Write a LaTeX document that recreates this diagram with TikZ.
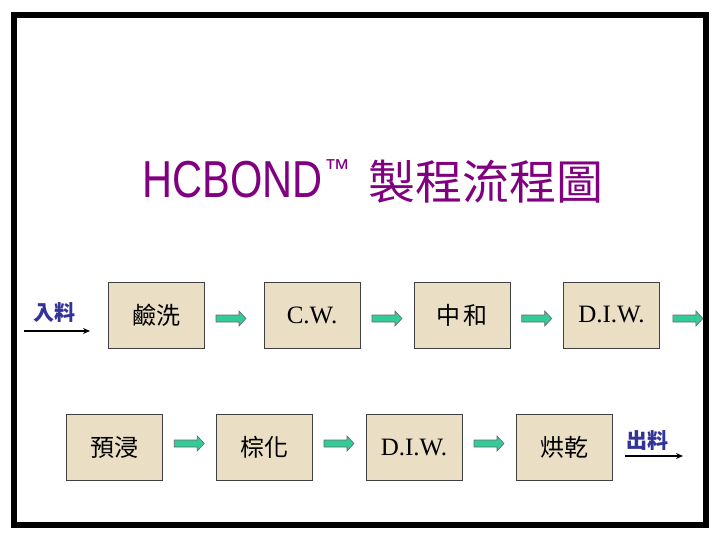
\documentclass[tikz,border=0pt]{standalone}
\usepackage{fontspec}
\usepackage{graphicx}
\setmainfont{Liberation Serif}
\newfontfamily\cjk{Noto Sans CJK TC}
\newfontfamily\titlefont{Liberation Sans}
\usetikzlibrary{calc,arrows.meta}
\definecolor{parch}{HTML}{EADFC4}
\definecolor{arrgreen}{HTML}{33CC99}
\definecolor{titlepurple}{HTML}{800080}
\definecolor{navy}{HTML}{333399}
\tikzset{
  procbox/.style={draw=black!75, line width=0.8pt, fill=parch, minimum width=96pt, minimum height=66pt, inner sep=0pt},
  cjktext/.style={font=\cjk\fontsize{24}{24}\selectfont},
  latintext/.style={font=\fontsize{25}{25}\selectfont},
  iolabel/.style={text=navy, font=\cjk\bfseries\fontsize{21}{21}\selectfont, inner sep=0pt},
  ioline/.style={line width=1.2pt, -{Stealth[length=7pt,width=6pt]}},
  blockarr/.pic={\draw[fill=arrgreen, draw=black!60, line width=0.6pt]
     (-15,-3.5) -- (8,-3.5) -- (8,-7.5) -- (15,0) -- (8,7.5) -- (8,3.5) -- (-15,3.5) -- cycle;}
}
\begin{document}
\begin{tikzpicture}[x=1pt,y=-1pt]
\useasboundingbox (0,0) rectangle (720,540);
\fill[white] (0,0) rectangle (720,540);
\draw[line width=6pt] (14,15) rectangle (705.5,525);

% title
\node[anchor=base west, inner sep=0pt, text=titlepurple] (t1) at (142,197)
  {\titlefont\fontsize{52}{52}\selectfont\scalebox{0.8}[1]{HCBOND}};
\node[anchor=base west, inner sep=0pt, text=titlepurple] (t2) at (324,178)
  {\titlefont\fontsize{26}{26}\selectfont ™};
\node[inner sep=0pt, text=titlepurple] (t3) at (486,182)
  {\cjk\fontsize{47}{47}\selectfont 製程流程圖};

% row 1
\node[procbox, cjktext] (a1) at (156,315) {鹼洗};
\node[procbox, latintext] (a2) at (312,315) {C.W.};
\node[procbox, cjktext] (a3) at (462,315) {中\,和};
\node[procbox, latintext] (a4) at (611.5,315) {D.I.W.};

% row 2
\node[procbox, cjktext] (b1) at (114.5,447.5) {預浸};
\node[procbox, cjktext] (b2) at (264,447.5) {棕化};
\node[procbox, latintext] (b3) at (414,447.5) {D.I.W.};
\node[procbox, cjktext] (b4) at (564,447.5) {烘乾};

% block arrows
\pic at ($(a1.east)!0.5!(a2.west)+(-3,3.5)$) {blockarr};
\pic at ($(a2.east)!0.5!(a3.west)+(0,3.5)$) {blockarr};
\pic at ($(a3.east)!0.5!(a4.west)+(0,3.5)$) {blockarr};
\pic at ($(a4.east)+(28,3.5)$) {blockarr};
\pic at ($(b1.east)!0.5!(b2.west)+(0,-4)$) {blockarr};
\pic at ($(b2.east)!0.5!(b3.west)+(0,-4)$) {blockarr};
\pic at ($(b3.east)!0.5!(b4.west)+(0,-4)$) {blockarr};

% input / output
\node[iolabel] (in) at (54,313) {入料};
\coordinate (inS) at (24,331);
\coordinate (inE) at (90,331);
\draw[ioline] (inS) -- (inE);
\node[iolabel] (out) at (647.5,441) {出料};
\coordinate (outS) at (625,456);
\coordinate (outE) at (683,456);
\draw[ioline] (outS) -- (outE);
\end{tikzpicture}
\end{document}
